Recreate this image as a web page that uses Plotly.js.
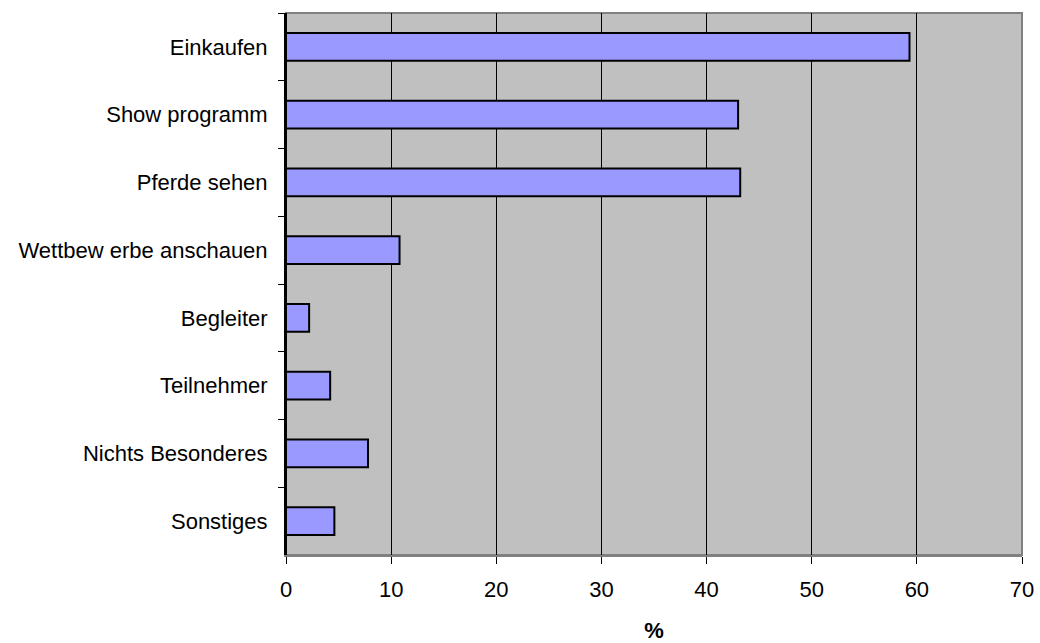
<!DOCTYPE html>
<html>
<head>
<meta charset="utf-8">
<script src="https://cdn.plot.ly/plotly-3.0.1.min.js"></script>
<style>html,body{margin:0;padding:0;background:#fff;}#chart{width:1040px;height:643px;}</style>
</head>
<body>
<div id="chart"></div>
<script>
var categories = ["Einkaufen", "Show programm", "Pferde sehen", "Wettbew erbe anschauen", "Begleiter", "Teilnehmer", "Nichts Besonderes", "Sonstiges"];
var values = [59.3, 43.0, 43.2, 10.8, 2.2, 4.2, 7.8, 4.6];
var xTicks = [0, 10, 20, 30, 40, 50, 60, 70];

var trace = {
  type: 'bar',
  orientation: 'h',
  y: categories,
  x: values,
  marker: {color: '#9999FF', line: {color: '#000000', width: 2}},
  hoverinfo: 'none'
};

var layout = {
  width: 1040, height: 643,
  margin: {l: 286, r: 18, t: 13, b: 88},
  paper_bgcolor: '#ffffff',
  plot_bgcolor: '#C0C0C0',
  bargap: 0.59,
  showlegend: false,
  font: {family: 'Liberation Sans, Arial, sans-serif', size: 22, color: '#000'},
  xaxis: {
    range: [0, 70],
    tickvals: xTicks,
    ticktext: xTicks.map(String),
    showgrid: true, gridcolor: '#000000', gridwidth: 1,
    zeroline: false,
    showline: true, linecolor: '#808080', linewidth: 2,
    ticks: 'outside', ticklen: 7, tickcolor: '#000', tickwidth: 1,
    ticklabelstandoff: 7,
    title: {text: '%', font: {size: 22, color: '#000', weight: 'bold'}, standoff: 24},
    fixedrange: true
  },
  yaxis: {
    type: 'category',
    autorange: 'reversed',
    categoryorder: 'array', categoryarray: categories,
    showgrid: false, zeroline: false,
    showline: true, linecolor: '#000', linewidth: 2,
    ticks: 'outside', tickson: 'boundaries', ticklen: 6, tickcolor: '#000', tickwidth: 1,
    ticklabelstandoff: 12,
    fixedrange: true
  },
  shapes: [{
    type: 'rect', xref: 'paper', yref: 'paper', x0: 0, x1: 1, y0: 0, y1: 1,
    line: {color: '#808080', width: 2}, layer: 'below'
  }, {
    type: 'line', xref: 'paper', yref: 'paper', x0: 0, x1: 0, y0: 0, y1: 1,
    line: {color: '#000', width: 2}, layer: 'above'
  }]
};

Plotly.newPlot('chart', [trace], layout, {displayModeBar: false, staticPlot: true});
</script>
</body>
</html>
